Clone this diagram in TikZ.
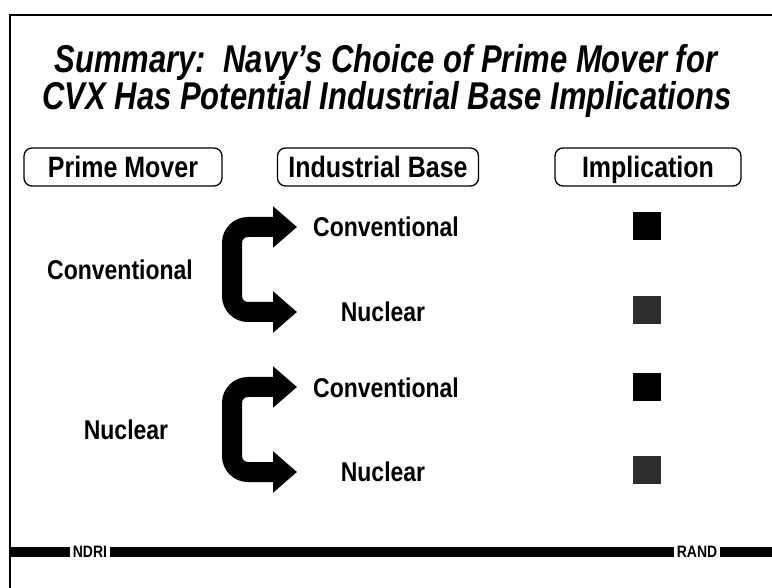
\documentclass[tikz,border=0pt]{standalone}
\usepackage{fontspec}
\setmainfont{Liberation Sans}
\usetikzlibrary{arrows.meta}
\newcommand{\tallA}[1]{\scalebox{1}[1.25]{#1}}
\newcommand{\tallB}[1]{\scalebox{1}[1.18]{#1}}
\tikzset{
  titletxt/.style={font=\fontsize{31}{37}\selectfont\bfseries\itshape, inner sep=0pt},
  headbox/.style={draw, line width=1.3pt, rounded corners=8pt, minimum height=38pt, inner sep=0pt, text height=23pt, text depth=2pt, font=\fontsize{25}{30}\selectfont\bfseries},
  lbl/.style={font=\fontsize{23}{26}\selectfont\bfseries, inner sep=0pt},
  sq/.style={minimum width=28pt, minimum height=28pt, inner sep=0pt},
  bigarrow/.style={line width=20pt, rounded corners=16pt, {Triangle[length=24pt,width=40pt]}-{Triangle[length=24pt,width=40pt]}},
  barline/.style={line width=10pt},
  foot/.style={font=\fontsize{14}{16}\selectfont\bfseries, inner sep=3pt}
}
\begin{document}
\begin{tikzpicture}[x=1pt,y=-1pt]
\useasboundingbox (0,0) rectangle (772,588);
% frame
\draw[line width=2.5pt] (772,15) -- (10,15) -- (10,588);
% title
\node[titletxt] (title1) at (386,62) {\tallA{Summary:\ \ Navy’s Choice of Prime Mover for}};
\node[titletxt] (title2) at (387,99) {\tallA{CVX Has Potential Industrial Base Implications}};
% headers
\node[headbox, minimum width=198pt] (hpm) at (123,167) {\tallB{Prime Mover}};
\node[headbox, minimum width=201pt] (hib) at (378,167) {\tallB{Industrial Base}};
\node[headbox, minimum width=186pt] (him) at (648,167) {\tallB{Implication}};
% group 1
\node[lbl] (pm1) at (120,270) {\tallB{Conventional}};
\node[lbl] (ib1) at (386,227) {\tallB{Conventional}};
\node[lbl] (ib2) at (383,312) {\tallB{Nuclear}};
\coordinate (t1) at (297,227);
\coordinate (t2) at (297,312);
\draw[bigarrow] (t1) -- (232,227) -- (232,312) -- (t2);
\node[sq, fill=black] (s1) at (647,226) {};
\node[sq, fill=black!82] (s2) at (647,310) {};
% group 2
\node[lbl] (pm2) at (126,430) {\tallB{Nuclear}};
\node[lbl] (ib3) at (386,388) {\tallB{Conventional}};
\node[lbl] (ib4) at (383,472) {\tallB{Nuclear}};
\coordinate (t3) at (297,387);
\coordinate (t4) at (297,472);
\draw[bigarrow] (t3) -- (232,387) -- (232,472) -- (t4);
\node[sq, fill=black] (s3) at (647,387) {};
\node[sq, fill=black!82] (s4) at (647,470) {};
% footer bar
\node[foot] (ndri) at (90,552) {\tallB{NDRI}};
\node[foot] (rand) at (697,552) {\tallB{RAND}};
\coordinate (bl) at (10,552);
\coordinate (br) at (772,552);
\draw[barline] (bl) -- (ndri.west);
\draw[barline] (ndri.east) -- (rand.west);
\draw[barline] (rand.east) -- (br);
\end{tikzpicture}
\end{document}
